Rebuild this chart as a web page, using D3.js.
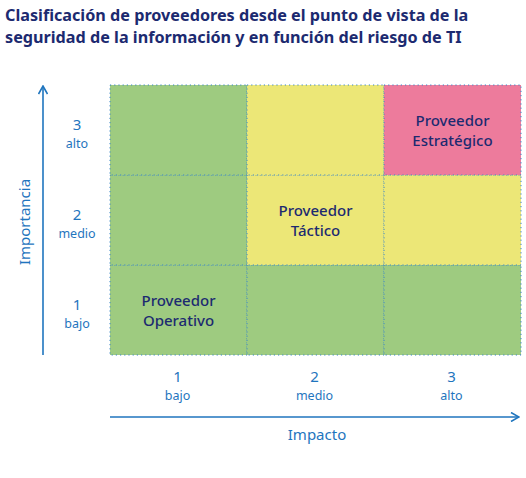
<!DOCTYPE html>
<html>
<head>
<meta charset="utf-8">
<script src="https://cdn.jsdelivr.net/npm/d3@7"></script>
<style>
	body { margin: 0; background: #fff; }
	svg { display: block; font-family: 'Noto Sans', sans-serif; }
</style>
</head>
<body>
<svg id="chart" width="526" height="478"></svg>
<script>
	var titleLines = ['Clasificación de proveedores desde el punto de vista de la', 'seguridad de la información y en función del riesgo de TI'];
	var levels = [1, 2, 3];
	var levelNames = ['bajo', 'medio', 'alto'];
	// cells: impacto, importancia, tipo
	var cellImpact = [1, 2, 3, 1, 2, 3, 1, 2, 3];
	var cellImportance = [1, 1, 1, 2, 2, 2, 3, 3, 3];
	var cellType = ['op', 'op', 'op', 'op', 'ta', 'ta', 'op', 'ta', 'es'];
	var typeColors = { op: '#9ecb80', ta: '#ece777', es: '#ed7b9c' };
	var cellLabels = [
		{ impact: 1, importance: 1, lines: ['Proveedor', 'Operativo'] },
		{ impact: 2, importance: 2, lines: ['Proveedor', 'Táctico'] },
		{ impact: 3, importance: 3, lines: ['Proveedor', 'Estratégico'] }
	];

	var svg = d3.select('#chart');
	var navy = '#1c2a70', blue = '#1f75be';
	var gridLeft = 110, gridRight = 521, gridTop = 85, gridBottom = 355;

	var x = d3.scaleBand().domain(levels).range([gridLeft, gridRight]);
	var y = d3.scaleBand().domain(levels).range([gridBottom, gridTop]);

	/** title */
	svg.append('g').selectAll('text').data(titleLines).enter().append('text')
		.attr('x', 5).attr('y', function(d, i) { return 21 + i * 22; })
		.attr('font-size', 16.2).attr('font-weight', 'bold').attr('fill', navy)
		.text(function(d) { return d; });

	/** cells */
	var cells = svg.append('g').selectAll('rect').data(cellType).enter().append('rect');
	cells.attr('x', function(d, i) { return x(cellImpact[i]); })
		.attr('y', function(d, i) { return y(cellImportance[i]); })
		.attr('width', x.bandwidth()).attr('height', y.bandwidth())
		.attr('fill', function(d) { return typeColors[d]; })
		.attr('stroke', '#3a86c8').attr('stroke-width', 1).attr('stroke-dasharray', '1.2,3');

	/** cell labels */
	var labels = svg.append('g').selectAll('g').data(cellLabels).enter().append('g');
	labels.selectAll('text').data(function(d) {
		return d.lines.map(function(l, i) { return { d: d, text: l, i: i }; });
	}).enter().append('text')
		.attr('x', function(o) { return x(o.d.impact) + x.bandwidth() / 2; })
		.attr('y', function(o) { return y(o.d.importance) + y.bandwidth() / 2 - 4 + o.i * 20; })
		.attr('text-anchor', 'middle').attr('font-size', 15).attr('font-weight', 500).attr('fill', navy)
		.text(function(o) { return o.text; });

	/** arrows */
	var defs = svg.append('defs');
	defs.append('marker').attr('id', 'arrow').attr('viewBox', '0 0 10 10')
		.attr('refX', 9).attr('refY', 5).attr('markerWidth', 10).attr('markerHeight', 10)
		.attr('markerUnits', 'userSpaceOnUse').attr('orient', 'auto')
		.append('path').attr('d', 'M1,0.5 L9,5 L1,9.5').attr('fill', 'none')
		.attr('stroke', blue).attr('stroke-width', 1.6);

	svg.append('line').attr('x1', 43).attr('x2', 43).attr('y1', gridBottom).attr('y2', 86)
		.attr('stroke', blue).attr('stroke-width', 1.6).attr('marker-end', 'url(#arrow)');
	svg.append('line').attr('x1', gridLeft).attr('x2', 519).attr('y1', 417).attr('y2', 417)
		.attr('stroke', blue).attr('stroke-width', 1.6).attr('marker-end', 'url(#arrow)');

	/** tick labels */
	var yTicks = svg.append('g').selectAll('g').data(levels).enter().append('g')
		.attr('transform', function(d) { return 'translate(77,' + (y(d) + y.bandwidth() / 2) + ')'; });
	yTicks.append('text').attr('y', 0).attr('text-anchor', 'middle').attr('font-size', 15).attr('fill', blue)
		.text(function(d) { return d; });
	yTicks.append('text').attr('y', 18).attr('text-anchor', 'middle').attr('font-size', 12.5).attr('fill', blue)
		.text(function(d, i) { return levelNames[i]; });

	var xTicks = svg.append('g').selectAll('g').data(levels).enter().append('g')
		.attr('transform', function(d) { return 'translate(' + (x(d) + x.bandwidth() / 2 - 1) + ',382)'; });
	xTicks.append('text').attr('text-anchor', 'middle').attr('font-size', 15).attr('fill', blue)
		.text(function(d) { return d; });
	xTicks.append('text').attr('y', 18).attr('text-anchor', 'middle').attr('font-size', 12.5).attr('fill', blue)
		.text(function(d, i) { return levelNames[i]; });

	/** axis titles */
	svg.append('text').attr('x', 317).attr('y', 440).attr('text-anchor', 'middle')
		.attr('font-size', 15).attr('fill', blue).text('Impacto');
	svg.append('text').attr('transform', 'translate(30,222) rotate(-90)').attr('text-anchor', 'middle')
		.attr('font-size', 15).attr('fill', blue).text('Importancia');
</script>
</body>
</html>
